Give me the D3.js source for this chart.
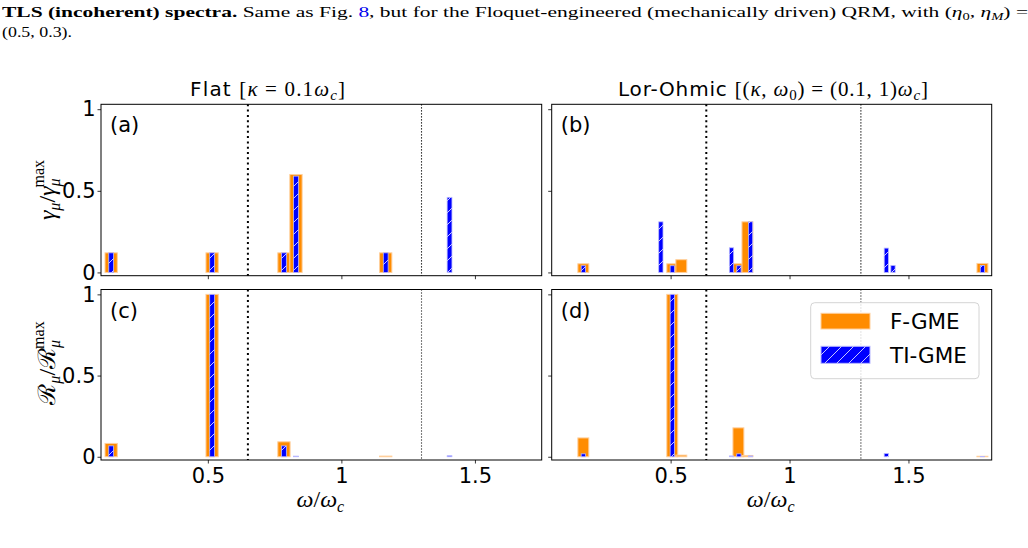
<!DOCTYPE html>
<html>
<head>
<meta charset="utf-8">
<script src="https://cdn.jsdelivr.net/npm/d3@7"></script>
<style>
body { margin: 0; background: #fff; }
svg { display: block; }
</style>
</head>
<body>
<svg id="chart" width="1028" height="548"></svg>
<script>
// bar positions (omega/omega_c) and normalised heights
const posOrangeAC = [0.138, 0.516, 0.785, 0.830, 1.166];
const posBlueAC   = [0.138, 0.516, 0.785, 0.830, 1.166, 1.405];
const gammaOrangeA = [0.12, 0.12, 0.12, 0.60, 0.12];
const gammaBlueA   = [0.12, 0.12, 0.12, 0.59, 0.12, 0.46];
const rateOrangeC  = [0.082, 1.0, 0.092, 0.0, 0.004];
const rateBlueC    = [0.067, 1.0, 0.067, 0.004, 0.0, 0.006];

const posOrangeBD = [0.133, 0.507, 0.545, 0.785, 0.823, 1.811];
const posBlueBD   = [0.133, 0.459, 0.507, 0.756, 0.787, 0.836, 1.407, 1.435, 1.811];
const gammaOrangeB = [0.053, 0.053, 0.078, 0.053, 0.31, 0.055];
const gammaBlueB   = [0.041, 0.31, 0.041, 0.151, 0.041, 0.31, 0.149, 0.043, 0.043];
const rateOrangeD  = [0.116, 1.0, 0.01, 0.178, 0.008, 0.003];
const rateBlueD    = [0.018, 0.0, 1.0, 0.005, 0.018, 0.005, 0.02, 0.0, 0.002];

const xTicks = [0.5, 1, 1.5];
const yTicks = [0, 0.5, 1];
const dividers = [0.65, 1.3];
const seriesNames = ["F-GME", "TI-GME"];

const ORANGE_W = 0.046, BLUE_W = 0.018;
const SANS = "DejaVu Sans, sans-serif";
const SERIF = "Liberation Serif, serif";

const svg = d3.select("#chart");

const defs = svg.append("defs");
const pat = defs.append("pattern").attr("id", "hatch")
  .attr("patternUnits", "userSpaceOnUse").attr("width", 12).attr("height", 12);
pat.append("rect").attr("width", 12).attr("height", 12).attr("fill", "#0000ff");
pat.append("path").attr("d", "M0,12L12,0M-3,3L3,-3M9,15L15,9")
  .attr("stroke", "#dcdcff").attr("stroke-width", 0.9);

const panels = [
  { id: "(a)", x0: 101, x1: 541.7, y0: 104.3, y1: 275.7, dom: [0.1, 1.75],
    oPos: posOrangeAC, oVal: gammaOrangeA, bPos: posBlueAC, bVal: gammaBlueA, xl: false, yl: true },
  { id: "(b)", x0: 551.7, x1: 991.7, y0: 104.3, y1: 275.7, dom: [0, 1.85],
    oPos: posOrangeBD, oVal: gammaOrangeB, bPos: posBlueBD, bVal: gammaBlueB, xl: false, yl: false },
  { id: "(c)", x0: 101, x1: 541.7, y0: 289.5, y1: 460, dom: [0.1, 1.75],
    oPos: posOrangeAC, oVal: rateOrangeC, bPos: posBlueAC, bVal: rateBlueC, xl: true, yl: true },
  { id: "(d)", x0: 551.7, x1: 991.7, y0: 289.5, y1: 460, dom: [0, 1.85],
    oPos: posOrangeBD, oVal: rateOrangeD, bPos: posBlueBD, bVal: rateBlueD, xl: true, yl: false }
];

panels.forEach(p => {
  const x = d3.scaleLinear().domain(p.dom).range([p.x0, p.x1]);
  const y = d3.scaleLinear().domain([-0.02, 1.03]).range([p.y1, p.y0]);
  const g = svg.append("g");

  const orange = d3.zip(p.oPos, p.oVal).filter(d => d[1] > 0);
  const blue = d3.zip(p.bPos, p.bVal).filter(d => d[1] > 0);

  g.selectAll(".ob").data(orange).join("rect")
    .attr("x", d => x(d[0] - ORANGE_W / 2))
    .attr("width", d => x(d[0] + ORANGE_W / 2) - x(d[0] - ORANGE_W / 2))
    .attr("y", d => y(d[1]))
    .attr("height", d => y(0) - y(d[1]))
    .attr("fill", "#ff8c00").attr("stroke", "#ffcf9c").attr("stroke-width", 1);

  g.selectAll(".bb").data(blue).join("rect")
    .attr("x", d => x(d[0] - BLUE_W / 2))
    .attr("width", d => x(d[0] + BLUE_W / 2) - x(d[0] - BLUE_W / 2))
    .attr("y", d => y(d[1]))
    .attr("height", d => y(0) - y(d[1]))
    .attr("fill", "url(#hatch)").attr("stroke", "#b8b8ff").attr("stroke-width", 0.8);

  // dotted dividers
  g.selectAll(".div").data(dividers).join("line")
    .attr("x1", d => x(d)).attr("x2", d => x(d))
    .attr("y1", p.y0).attr("y2", p.y1)
    .attr("stroke", "#000")
    .attr("stroke-width", (d, i) => i === 0 ? 2 : 1.1)
    .attr("stroke-dasharray", (d, i) => i === 0 ? "2,3.3" : "1.1,1.9");

  const yAx = g.append("g").attr("transform", `translate(${p.x0},0)`)
    .call(d3.axisLeft(y).tickValues(yTicks).tickSize(3.5).tickPadding(2)
      .tickFormat(p.yl ? d3.format("") : () => ""));
  const xAx = g.append("g").attr("transform", `translate(0,${p.y1})`)
    .call(d3.axisBottom(x).tickValues(xTicks).tickSize(3.5).tickPadding(5)
      .tickFormat(p.xl ? d3.format("") : () => ""));
  [yAx, xAx].forEach(a => {
    a.select(".domain").remove();
    a.selectAll("line").attr("stroke", "#000").attr("stroke-width", 0.8);
    a.selectAll("text").attr("font-family", SANS).attr("font-size", 21).attr("fill", "#000");
  });

  g.append("rect")
    .attr("x", p.x0).attr("y", p.y0)
    .attr("width", p.x1 - p.x0).attr("height", p.y1 - p.y0)
    .attr("fill", "none").attr("stroke", "#000").attr("stroke-width", 1);

  g.append("text").attr("x", p.x0 + 9).attr("y", p.y0 + 28)
    .attr("font-family", SANS).attr("font-size", 21).text(p.id);

  if (p.xl) {
    const t = svg.append("text").attr("x", (p.x0 + p.x1) / 2 - 1).attr("y", p.y1 + 47)
      .attr("text-anchor", "middle").attr("font-family", SERIF).attr("font-size", 24);
    t.append("tspan").attr("font-style", "italic").text("ω");
    t.append("tspan").text("/");
    t.append("tspan").attr("font-style", "italic").text("ω");
    t.append("tspan").attr("font-style", "italic").attr("font-size", 16).attr("dy", 5).text("c");
  }
});

// column titles
const t1 = svg.append("text").attr("x", 267.5).attr("y", 96)
  .attr("text-anchor", "middle").attr("font-size", 21).attr("font-family", SERIF)
  .attr("textLength", 155).attr("lengthAdjust", "spacing");
t1.append("tspan").attr("font-family", SANS).attr("font-size", 20).text("Flat ");
t1.append("tspan").text("[");
t1.append("tspan").attr("font-style", "italic").text("κ");
t1.append("tspan").text(" = 0.1");
t1.append("tspan").attr("font-style", "italic").text("ω");
t1.append("tspan").attr("font-style", "italic").attr("font-size", 15).attr("dy", 4).text("c");
t1.append("tspan").attr("dy", -4).text("]");

const t2 = svg.append("text").attr("x", 773).attr("y", 96)
  .attr("text-anchor", "middle").attr("font-size", 21).attr("font-family", SERIF)
  .attr("textLength", 310).attr("lengthAdjust", "spacing");
t2.append("tspan").attr("font-family", SANS).attr("font-size", 20).text("Lor-Ohmic ");
t2.append("tspan").text("[(");
t2.append("tspan").attr("font-style", "italic").text("κ");
t2.append("tspan").text(", ");
t2.append("tspan").attr("font-style", "italic").text("ω");
t2.append("tspan").attr("font-size", 15).attr("dy", 4).text("0");
t2.append("tspan").attr("dy", -4).text(") = (0.1, 1)");
t2.append("tspan").attr("font-style", "italic").text("ω");
t2.append("tspan").attr("font-style", "italic").attr("font-size", 15).attr("dy", 4).text("c");
t2.append("tspan").attr("dy", -4).text("]");

// y labels
function yLabel(cx, cy, sym) {
  const t = svg.append("text").attr("transform", `translate(${cx},${cy}) rotate(-90)`)
    .attr("text-anchor", "middle").attr("font-family", SERIF).attr("font-size", 24);
  t.append("tspan").attr("font-style", sym === "γ" ? "italic" : null).text(sym);
  t.append("tspan").attr("font-style", "italic").attr("font-size", 16).attr("dy", 5).text("μ");
  t.append("tspan").attr("dy", -5).text("/");
  t.append("tspan").attr("font-style", sym === "γ" ? "italic" : null).text(sym);
  t.append("tspan").attr("font-style", "italic").attr("font-size", 16).attr("dy", 5).text("μ");
  t.append("tspan").attr("font-size", 16).attr("dx", -9).attr("dy", -16).text("max");
}
yLabel(55, 190, "γ");
yLabel(55, 363, "ℛ");

// legend
const lg = svg.append("g");
lg.append("rect").attr("x", 810.7).attr("y", 302.7).attr("width", 168.3).attr("height", 76)
  .attr("rx", 4).attr("fill", "#fff").attr("fill-opacity", 0.8)
  .attr("stroke", "#d4d4d4").attr("stroke-width", 1);
lg.append("rect").attr("x", 821).attr("y", 313.3).attr("width", 49).attr("height", 15.7)
  .attr("fill", "#ff8c00").attr("stroke", "#ffcf9c");
lg.append("rect").attr("x", 821).attr("y", 346.3).attr("width", 49).attr("height", 17)
  .attr("fill", "url(#hatch)").attr("stroke", "#b8b8ff");
lg.selectAll(".lt").data(seriesNames).join("text")
  .attr("x", 890).attr("y", (d, i) => 321.5 + i * 33.5)
  .attr("dominant-baseline", "central")
  .attr("font-family", SANS).attr("font-size", 21.5).text(d => d);

// caption above the figure
const cap = svg.append("text").attr("x", 2).attr("y", 17)
  .attr("font-family", SERIF).attr("font-size", 15.5)
  .attr("textLength", 1026).attr("lengthAdjust", "spacingAndGlyphs");
cap.append("tspan").attr("font-weight", "bold").text("TLS (incoherent) spectra.");
cap.append("tspan").text(" Same as Fig. ");
cap.append("tspan").attr("fill", "#0000ee").text("8");
cap.append("tspan").text(", but for the Floquet-engineered (mechanically driven) QRM, with (");
cap.append("tspan").attr("font-style", "italic").text("η");
cap.append("tspan").attr("font-size", 10.5).attr("dy", 3).text("0");
cap.append("tspan").attr("dy", -3).text(", ");
cap.append("tspan").attr("font-style", "italic").text("η");
cap.append("tspan").attr("font-size", 10.5).attr("font-style", "italic").attr("dy", 3).text("M");
cap.append("tspan").attr("dy", -3).text(") =");

svg.append("text").attr("x", 2).attr("y", 37)
  .attr("font-family", SERIF).attr("font-size", 15.5)
  .attr("textLength", 70).attr("lengthAdjust", "spacingAndGlyphs")
  .text("(0.5, 0.3).");
</script>
</body>
</html>
